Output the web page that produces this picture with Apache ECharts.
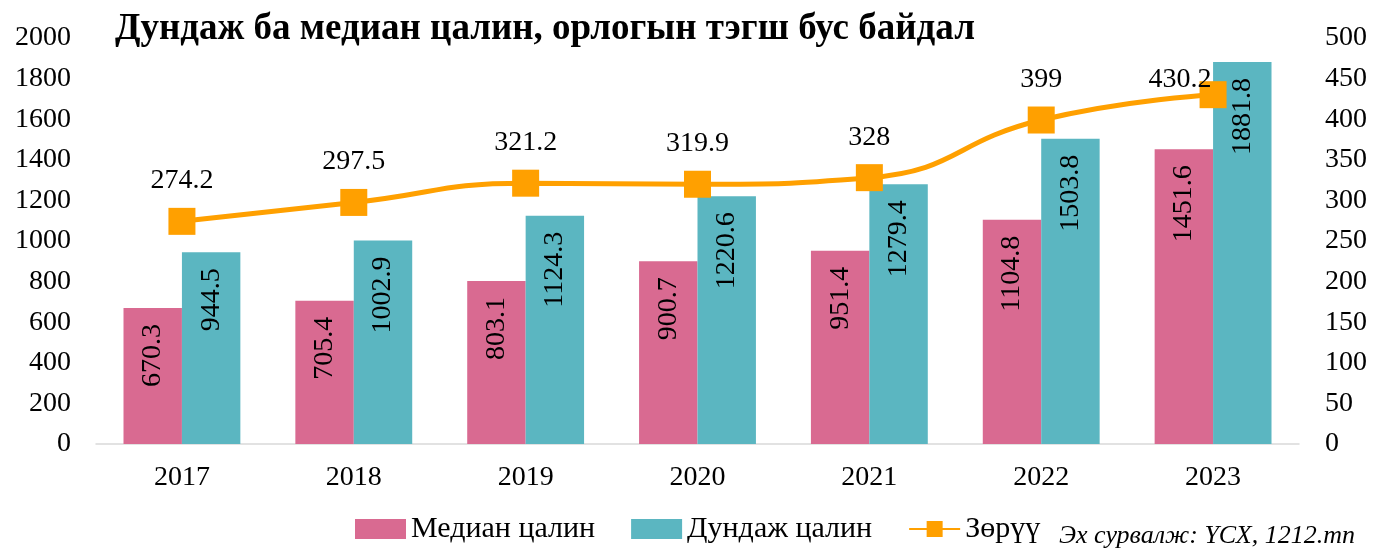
<!DOCTYPE html>
<html>
<head>
<meta charset="utf-8">
<script src="https://cdn.jsdelivr.net/npm/echarts@6/dist/echarts.min.js"></script>
<style>
  html, body { margin: 0; padding: 0; background: #fff; }
  #chart { width: 1373px; height: 553px; }
</style>
</head>
<body>
<div id="chart"></div>
<script>
// chart data
const years = ['2017', '2018', '2019', '2020', '2021', '2022', '2023'];
const medianWage = [670.3, 705.4, 803.1, 900.7, 951.4, 1104.8, 1451.6];
const averageWage = [944.5, 1002.9, 1124.3, 1220.6, 1279.4, 1503.8, 1881.8];
const gap = [274.2, 297.5, 321.2, 319.9, 328, 399, 430.2];

const font = 'Liberation Serif';
const orange = '#ffa000';

let chart = echarts.init(document.getElementById('chart'));

const barLabel = {
  show: true,
  position: 'insideTop',
  distance: 16,
  rotate: 90,
  align: 'right',
  verticalAlign: 'middle',
  color: '#000',
  fontFamily: font,
  fontSize: 28
};

// last label sits left of the marker, so it does not hit the tall bar
const gapData = gap.map((v, i) => i === gap.length - 1
  ? { value: v, label: { offset: [-33, 25] } }
  : v);

chart.setOption({
  backgroundColor: '#fff',
  animation: false,
  title: {
    text: 'Дундаж ба медиан цалин, орлогын тэгш бус байдал',
    left: 110,
    top: 6,
    textStyle: { fontFamily: font, fontWeight: 'bold', fontSize: 37, color: '#000' }
  },
  legend: {
    left: 350,
    bottom: 4,
    itemWidth: 51,
    itemHeight: 20,
    itemGap: 36,
    textStyle: { fontFamily: font, fontSize: 30, color: '#000' },
    data: [
      { name: 'Медиан цалин', icon: 'rect' },
      { name: 'Дундаж цалин', icon: 'rect' },
      { name: 'Зөрүү' }
    ]
  },
  graphic: [{
    type: 'text',
    right: 18,
    bottom: 4,
    style: {
      text: 'Эх сурвалж: ҮСХ, 1212.mn',
      font: 'italic 26px "Liberation Serif"',
      fill: '#000'
    }
  }],
  grid: { left: 96, right: 74, top: 38, bottom: 109 },
  xAxis: {
    type: 'category',
    data: years,
    axisLine: { show: true, lineStyle: { color: '#d9d9d9', width: 1.5 } },
    axisTick: { show: false },
    axisLabel: { fontFamily: font, fontSize: 28, color: '#000', margin: 20 }
  },
  yAxis: [
    {
      type: 'value', min: 0, max: 2000, interval: 200,
      splitLine: { show: false },
      axisLabel: { fontFamily: font, fontSize: 28, color: '#000', margin: 25, formatter: v => String(v) }
    },
    {
      type: 'value', min: 0, max: 500, interval: 50,
      splitLine: { show: false },
      axisLabel: { fontFamily: font, fontSize: 28, color: '#000', margin: 26, formatter: v => String(v) }
    }
  ],
  series: [
    {
      name: 'Медиан цалин',
      type: 'bar',
      data: medianWage,
      barGap: '0%',
      barCategoryGap: '32%',
      itemStyle: { color: '#d96a91' },
      label: barLabel
    },
    {
      name: 'Дундаж цалин',
      type: 'bar',
      data: averageWage,
      itemStyle: { color: '#5bb6c1' },
      label: barLabel
    },
    {
      name: 'Зөрүү',
      type: 'line',
      yAxisIndex: 1,
      data: gapData,
      smooth: true,
      symbol: 'rect',
      symbolSize: 27,
      lineStyle: { color: orange, width: 5 },
      itemStyle: { color: orange },
      label: {
        show: true,
        position: 'top',
        distance: 13,
        color: '#000',
        fontFamily: font,
        fontSize: 28
      }
    }
  ]
});
</script>
</body>
</html>
